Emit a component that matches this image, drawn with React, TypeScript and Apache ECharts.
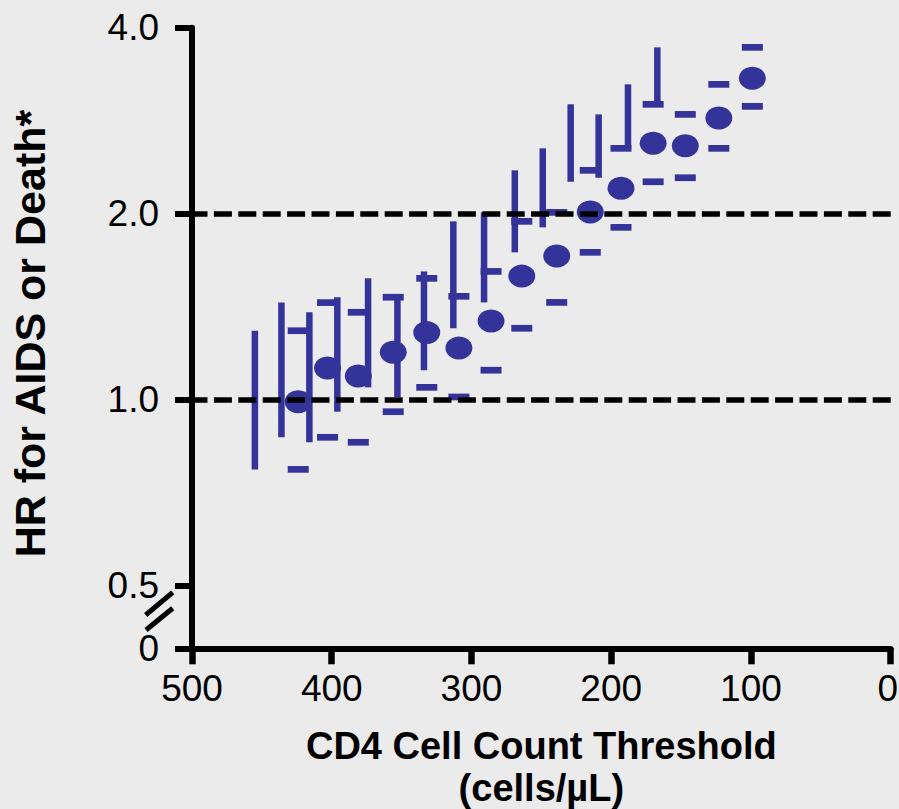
import React, { useEffect, useRef } from 'react';
import * as echarts from 'echarts';

// CD4 cell count threshold (cells/µL) of each point estimate
const thresholds = [424, 403, 381, 356, 332, 309, 286, 264, 239, 215, 193, 170, 147, 123, 99];
// Hazard ratio for AIDS or death
const hazardRatio = [0.993, 1.126, 1.093, 1.194, 1.285, 1.213, 1.342, 1.586, 1.709, 2.014, 2.2, 2.601, 2.578, 2.858, 3.314];
// Confidence interval bounds (drawn as caps at the threshold)
const ciUpper = [1.294, 1.437, 1.386, 1.466, 1.573, 1.471, 1.614, 1.945, 2.011, 2.352, 2.553, 3.008, 2.897, 3.24, 3.719];
const ciLower = [0.772, 0.87, 0.854, 0.957, 1.048, 1.011, 1.117, 1.306, 1.438, 1.733, 1.902, 2.254, 2.288, 2.553, 2.985];
// x position at which the interval's vertical bar is drawn in the original figure
const ciBarX = [455, 436, 416, 396, 374, 353, 334, 313, 291, 269, 249, 229, 209, 188, 167];
// Reference lines
const referenceLines = [1, 2];
// Axis extents
const xRange = [0, 500];
const yRange = [0.3964, 4];

const BLUE = '#333399';
const BG = '#EBEBEB';
const FONT = '"Liberation Sans", Arial, Helvetica, sans-serif';

export default function App() {
  const ref = useRef<HTMLDivElement>(null);

  useEffect(() => {
    if (!ref.current) return;
    const chart = echarts.init(ref.current, null, { renderer: 'svg' });

    const option: any = {
      animation: false,
      backgroundColor: BG,
      grid: {
        left: 192,
        right: 8.3,
        top: 27.8,
        bottom: 160.7,
        containLabel: false,
        outerBoundsMode: 'none',
      },
      xAxis: {
        type: 'value',
        min: xRange[0],
        max: xRange[1],
        interval: 100,
        inverse: true,
        name: 'CD4 Cell Count Threshold\n(cells/µL)',
        nameLocation: 'middle',
        nameGap: 77,
        nameTextStyle: { fontSize: 38, fontWeight: 'bold', color: '#000', fontFamily: FONT, lineHeight: 42 },
        axisLine: { show: true, onZero: false, lineStyle: { color: '#000', width: 6 } },
        axisTick: { show: true, length: 16, lineStyle: { color: '#000', width: 6.5 } },
        axisLabel: {
          fontSize: 37,
          color: '#000',
          fontFamily: FONT,
          margin: 22,
          showMinLabel: true,
          showMaxLabel: true,
          formatter: (v: number) => (v === 0 ? '{edge|0}' : String(v)),
          rich: {
            edge: { fontSize: 37, color: '#000', fontFamily: FONT, padding: [0, 6, 0, 0] },
          },
        },
        splitLine: { show: false },
      },
      yAxis: {
        type: 'log',
        logBase: 2,
        min: yRange[0],
        max: yRange[1],
        position: 'left',
        name: 'HR for AIDS or Death*',
        nameLocation: 'middle',
        nameRotate: 90,
        nameGap: 141,
        nameTextStyle: { fontSize: 43, fontWeight: 'bold', color: '#000', fontFamily: FONT, padding: [0, 0, 0, 9] },
        axisLine: { show: true, onZero: false, lineStyle: { color: '#000', width: 6 } },
        axisTick: { show: true, length: 17, lineStyle: { color: '#000', width: 6 } },
        axisLabel: {
          fontSize: 37,
          color: '#000',
          fontFamily: FONT,
          margin: 33,
          showMinLabel: true,
          showMaxLabel: true,
          formatter: (v: number) => (v < 0.45 ? '0' : v.toFixed(1)),
        },
        splitLine: { show: false },
        minorTick: { show: false },
      },
      series: [
        {
          type: 'scatter',
          name: 'ref',
          data: [],
          z: 1,
          silent: true,
          markLine: {
            silent: true,
            symbol: ['none', 'none'],
            label: { show: false },
            lineStyle: { color: '#000', width: 5.5, type: [18, 6.4] },
            data: referenceLines.map((v) => ({ yAxis: v })),
          },
        },
        {
          type: 'custom',
          name: 'ci bars',
          z: 3,
          silent: true,
          data: ciBarX.map((x, i) => [x, ciLower[i], ciUpper[i]]),
          encode: { x: 0, y: [1, 2] },
          renderItem: (params: any, api: any) => {
            const x = api.value(0);
            const p1 = api.coord([x, api.value(1)]);
            const p2 = api.coord([x, api.value(2)]);
            return {
              type: 'line',
              shape: { x1: p1[0], y1: p1[1], x2: p2[0], y2: p2[1] },
              style: { stroke: BLUE, lineWidth: 6.5 },
            };
          },
        },
        {
          type: 'scatter',
          name: 'upper',
          z: 3,
          silent: true,
          symbol: 'rect',
          symbolSize: [21, 6.7],
          itemStyle: { color: BLUE, opacity: 1 },
          data: thresholds.map((x, i) => [x, ciUpper[i]]),
        },
        {
          type: 'scatter',
          name: 'lower',
          z: 3,
          silent: true,
          symbol: 'rect',
          symbolSize: [21, 6.7],
          itemStyle: { color: BLUE, opacity: 1 },
          data: thresholds.map((x, i) => [x, ciLower[i]]),
        },
        {
          type: 'scatter',
          name: 'HR',
          z: 4,
          silent: true,
          symbol: 'circle',
          symbolSize: [27, 23],
          itemStyle: { color: BLUE, opacity: 1 },
          data: thresholds.map((x, i) => [x, hazardRatio[i]]),
        },
      ],
    };

    chart.setOption(option);

    // axis-break marks ("//") near the bottom of the y axis
    const o = chart.convertToPixel({ gridIndex: 0 }, [xRange[1], yRange[0]]) as number[];
    if (o && isFinite(o[0])) {
      const ox = o[0];
      const oy = o[1];
      chart.setOption({
        graphic: [
          {
            type: 'line',
            silent: true,
            z: 10,
            shape: { x1: ox - 46.3, y1: oy - 33.3, x2: ox - 19.3, y2: oy - 56 },
            style: { stroke: '#000', lineWidth: 5 },
          },
          {
            type: 'line',
            silent: true,
            z: 10,
            shape: { x1: ox - 46, y1: oy - 18.3, x2: ox - 19.3, y2: oy - 40 },
            style: { stroke: '#000', lineWidth: 5 },
          },
        ],
      });
    }

    return () => chart.dispose();
  }, []);

  return (
    <div
      ref={ref}
      style={{ position: 'fixed', left: 0, top: 0, width: 899, height: 809, background: BG }}
    />
  );
}
